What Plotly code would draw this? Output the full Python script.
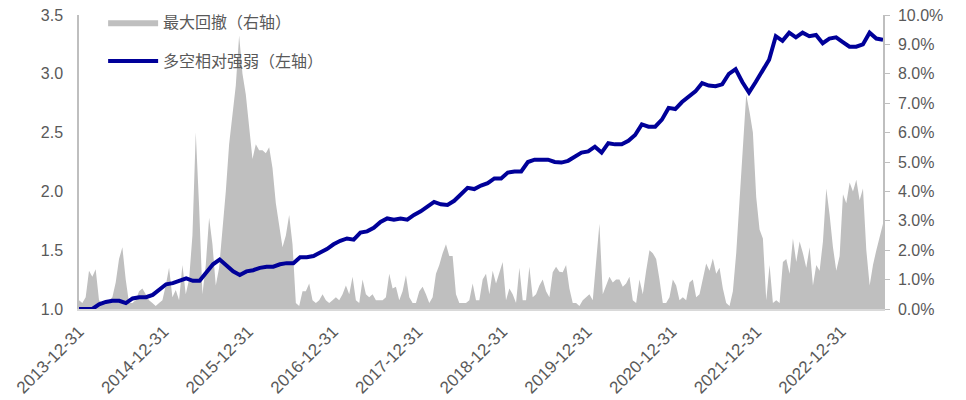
import pandas as pd
import plotly.graph_objects as go

# ---- data ----
start_date = "2013-12-31"
end_date = "2023-06-30"

# long/short relative strength (left axis), 121 evenly spaced dates
strength = [
    1.00, 1.00, 1.00, 1.04, 1.06, 1.07, 1.07, 1.05, 1.09, 1.10,
    1.10, 1.12, 1.17, 1.21, 1.22, 1.24, 1.26, 1.24, 1.24, 1.31,
    1.38, 1.42, 1.37, 1.32, 1.29, 1.32, 1.33, 1.35, 1.36, 1.36,
    1.38, 1.39, 1.39, 1.44, 1.44, 1.45, 1.48, 1.51, 1.55, 1.58,
    1.60, 1.59, 1.65, 1.66, 1.69, 1.74, 1.77, 1.76, 1.77, 1.76,
    1.80, 1.83, 1.87, 1.91, 1.89, 1.885, 1.92, 1.97, 2.03, 2.02,
    2.05, 2.07, 2.11, 2.11, 2.16, 2.17, 2.17, 2.25, 2.27, 2.27,
    2.27, 2.25, 2.245, 2.26, 2.30, 2.33, 2.34, 2.38, 2.33, 2.41,
    2.40, 2.40, 2.43, 2.48, 2.57, 2.55, 2.55, 2.61, 2.71, 2.70,
    2.76, 2.81, 2.85, 2.92, 2.90, 2.895, 2.91, 3.00, 3.04, 2.93,
    2.84, 2.93, 3.02, 3.12, 3.32, 3.28, 3.35, 3.31, 3.35, 3.32,
    3.33, 3.26, 3.30, 3.31, 3.27, 3.23, 3.23, 3.25, 3.35, 3.30,
    3.29,
]

# maximum drawdown in % (right axis), 242 evenly spaced dates
drawdown_pct = [
    0.3, 0.2, 0.4, 1.3, 1.1, 1.35, 0.3, 0.2, 0.3, 0.3,
    0.4, 0.9, 1.7, 2.1, 1.0, 0.2, 0.2, 0.3, 0.6, 0.7,
    0.5, 0.3, 0.2, 0.1, 0.2, 0.3, 0.8, 1.4, 0.4, 0.65,
    0.3, 1.5, 0.5, 1.0, 2.5, 6.0, 3.5, 0.5, 1.5, 3.1,
    2.2, 0.8, 1.4, 2.6, 4.0, 5.6, 6.6, 7.6, 9.3, 8.0,
    7.3, 6.2, 5.1, 5.6, 5.4, 5.4, 5.3, 5.5, 4.8, 3.6,
    2.9, 2.1, 2.5, 3.2, 2.2, 0.2, 0.1, 0.6, 0.6, 0.87,
    0.3, 0.2, 0.3, 0.5, 0.3, 0.2, 0.3, 0.4, 0.3, 0.5,
    0.8, 0.5, 1.1, 0.3, 0.2, 1.0, 0.5, 0.4, 0.5, 0.3,
    0.3, 0.3, 0.4, 1.2, 0.7, 0.76, 0.3, 0.6, 1.15, 0.4,
    0.2, 0.2, 0.6, 0.76, 0.5, 0.2, 0.4, 1.2, 1.5, 1.9,
    2.2, 1.8, 1.8, 0.5, 0.2, 0.2, 0.2, 0.3, 0.87, 0.3,
    0.3, 1.0, 1.2, 0.5, 1.3, 0.87, 1.2, 1.6, 0.3, 0.7,
    0.5, 0.2, 1.4, 0.3, 0.3, 1.44, 0.4, 0.5, 0.8, 1.0,
    0.6, 0.4, 1.25, 1.44, 1.27, 1.25, 1.5, 0.7, 0.2, 0.2,
    0.1, 0.3, 0.4, 0.5, 0.3, 1.7, 2.9, 0.5, 0.8, 1.1,
    0.9, 1.0, 1.0, 0.76, 0.87, 1.1, 0.3, 0.2, 1.0, 0.5,
    1.3, 2.0, 1.9, 1.7, 1.0, 0.2, 0.2, 0.4, 1.0, 0.8,
    0.3, 0.4, 0.3, 0.9, 1.0, 0.4, 0.5, 1.0, 1.55, 1.3,
    1.72, 1.2, 1.4, 0.7, 0.2, 0.1, 0.6, 1.9, 3.8, 5.3,
    7.3, 6.7, 6.0, 3.8, 2.7, 2.4, 0.3, 1.5, 0.2, 0.3,
    0.2, 1.6, 1.7, 1.2, 2.4, 1.6, 2.3, 1.9, 1.4, 2.1,
    0.8, 1.5, 1.3, 2.3, 4.1, 3.2, 2.1, 1.3, 1.8, 3.9,
    3.6, 4.3, 4.0, 4.4, 3.7, 4.1, 2.0, 0.8, 1.5, 2.0,
    2.5, 2.9,
]

tick_labels = ["2013-12-31", "2014-12-31", "2015-12-31", "2016-12-31",
               "2017-12-31", "2018-12-31", "2019-12-31", "2020-12-31",
               "2021-12-31", "2022-12-31"]

dates_strength = pd.date_range(start_date, end_date, periods=len(strength))
dates_dd = pd.date_range(start_date, end_date, periods=len(drawdown_pct))
drawdown = [v / 100 for v in drawdown_pct]

GREY = "#BFBFBF"
BLUE = "#000099"
TXT = "#595959"
FONT = "Liberation Sans, Arial, sans-serif"
CJK = "Noto Sans CJK SC, sans-serif"

fig = go.Figure()
fig.add_trace(go.Scatter(
    x=dates_dd, y=drawdown, name="最大回撤（右轴）",
    mode="lines", line=dict(width=0, color=GREY),
    fill="tozeroy", fillcolor=GREY, yaxis="y", legendgroup="a",
))
fig.add_trace(go.Scatter(
    x=dates_strength, y=strength, name="多空相对强弱（左轴）",
    mode="lines", line=dict(width=4, color=BLUE),
    yaxis="y2", legendgroup="b",
))

fig.update_layout(
    width=966, height=400,
    margin=dict(l=71, r=91, t=7, b=99, autoexpand=False),
    paper_bgcolor="white", plot_bgcolor="white",
    showlegend=True,
    legend=dict(x=0.03, y=1.033, xanchor="left", yanchor="top",
                bgcolor="rgba(0,0,0,0)", itemwidth=50, tracegroupgap=15,
                font=dict(family=CJK, size=16, color=TXT)),
    xaxis=dict(
        type="date", range=[start_date, end_date], automargin=False,
        tickvals=tick_labels, ticktext=tick_labels, tickangle=-45,
        showgrid=False, zeroline=False, showline=True,
        linecolor="#D9D9D9", linewidth=2, ticks="",
        ticklabeloverflow="allow", ticklabelstandoff=4,
        tickfont=dict(family=FONT, size=17, color=TXT),
    ),
    yaxis=dict(
        side="right", range=[0, 0.10], dtick=0.01, tickformat=".1%",
        automargin=False, ticklabeloverflow="allow", ticklabelstandoff=5,
        showgrid=False, zeroline=False, showline=True,
        linecolor="#BFBFBF", linewidth=1.5, ticks="outside",
        ticklen=5, tickcolor="#BFBFBF",
        tickfont=dict(family=FONT, size=16, color=TXT),
    ),
    yaxis2=dict(
        side="left", overlaying="y", range=[1.0, 3.5], dtick=0.5,
        tickformat=".1f", automargin=False, ticklabeloverflow="allow",
        ticklabelstandoff=11,
        showgrid=False, zeroline=False, showline=True,
        linecolor="#BFBFBF", linewidth=1.5, ticks="",
        tickfont=dict(family=FONT, size=16, color=TXT),
    ),
)

fig.write_html("out.html")
